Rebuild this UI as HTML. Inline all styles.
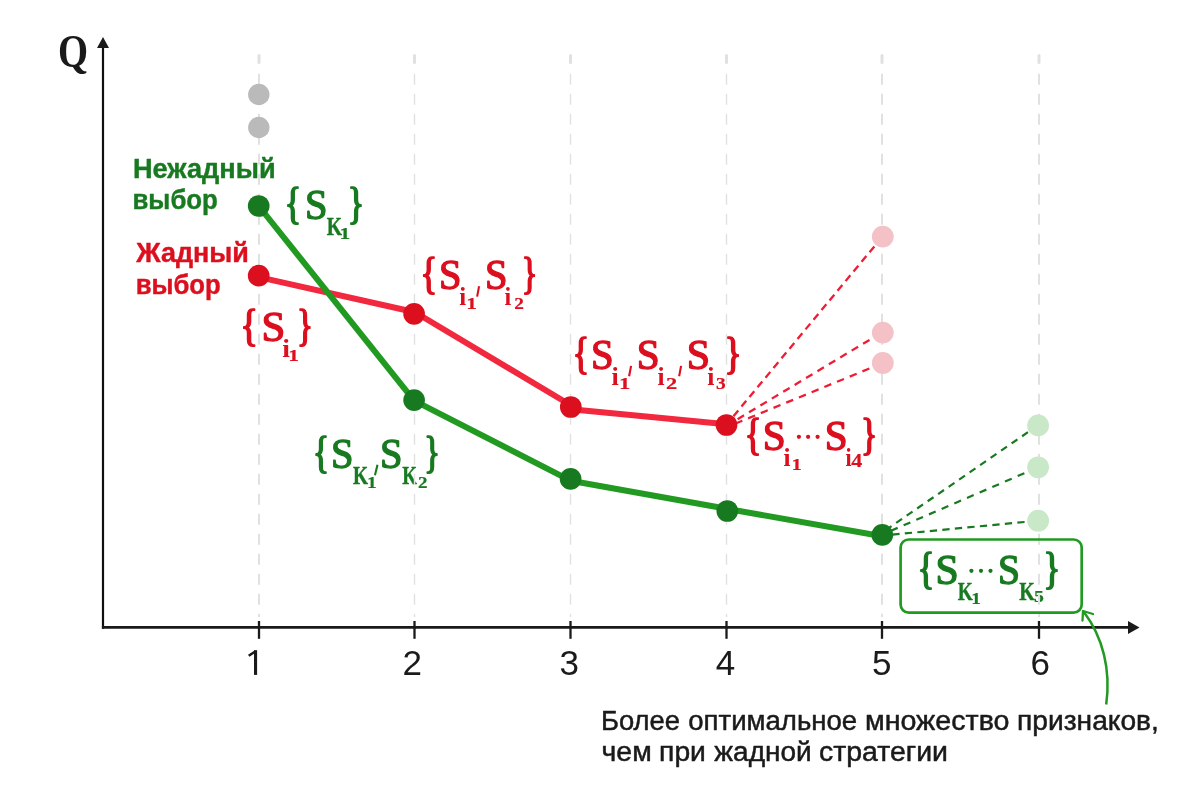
<!DOCTYPE html>
<html><head><meta charset="utf-8"><title>chart</title>
<style>
html,body{margin:0;padding:0;background:#fff;}
body{width:1200px;height:789px;overflow:hidden;font-family:"Liberation Sans",sans-serif;}
svg{display:block;will-change:transform;transform:translateZ(0)}
text{white-space:pre}
</style></head><body>
<svg width="1200" height="789" viewBox="0 0 1200 789">
<rect width="1200" height="789" fill="#ffffff"/>
<text transform="translate(132.98 178) scale(0.9962 1)" font-family="Liberation Sans" font-size="27.3" fill="#187a20" font-weight="bold" stroke="#187a20" stroke-width="0.4" stroke-linejoin="round">Нежадный</text>
<text transform="translate(132.50 208.7) scale(0.9452 1)" font-family="Liberation Sans" font-size="27.3" fill="#187a20" font-weight="bold" stroke="#187a20" stroke-width="0.4" stroke-linejoin="round">выбор</text>
<text transform="translate(136.18 262) scale(0.9888 1)" font-family="Liberation Sans" font-size="27.3" fill="#dc0f1f" font-weight="bold" stroke="#dc0f1f" stroke-width="0.4" stroke-linejoin="round">Жадный</text>
<text transform="translate(135.70 293.7) scale(0.9429 1)" font-family="Liberation Sans" font-size="27.3" fill="#dc0f1f" font-weight="bold" stroke="#dc0f1f" stroke-width="0.4" stroke-linejoin="round">выбор</text>
<text transform="translate(601.00 730) scale(0.9925 1)" font-family="Liberation Sans" font-size="27.6" fill="#1a1a1a" stroke="#1a1a1a" stroke-width="0.5" stroke-linejoin="round">Более</text>
<text transform="translate(688.29 730) scale(0.9993 1)" font-family="Liberation Sans" font-size="27.6" fill="#1a1a1a" stroke="#1a1a1a" stroke-width="0.5" stroke-linejoin="round">оптимальное</text>
<text transform="translate(864.96 730) scale(1.0383 1)" font-family="Liberation Sans" font-size="27.6" fill="#1a1a1a" stroke="#1a1a1a" stroke-width="0.5" stroke-linejoin="round">множество</text>
<text transform="translate(1017.10 730) scale(1.0199 1)" font-family="Liberation Sans" font-size="27.6" fill="#1a1a1a" stroke="#1a1a1a" stroke-width="0.5" stroke-linejoin="round">признаков,</text>
<text transform="translate(601.56 761.2) scale(1.0297 1)" font-family="Liberation Sans" font-size="27.6" fill="#1a1a1a" stroke="#1a1a1a" stroke-width="0.5" stroke-linejoin="round">чем</text>
<text transform="translate(659.09 761.2) scale(1.0242 1)" font-family="Liberation Sans" font-size="27.6" fill="#1a1a1a" stroke="#1a1a1a" stroke-width="0.5" stroke-linejoin="round">при</text>
<text transform="translate(714.35 761.2) scale(1.0147 1)" font-family="Liberation Sans" font-size="27.6" fill="#1a1a1a" stroke="#1a1a1a" stroke-width="0.5" stroke-linejoin="round">жадной</text>
<text transform="translate(819.04 761.2) scale(1.0305 1)" font-family="Liberation Sans" font-size="27.6" fill="#1a1a1a" stroke="#1a1a1a" stroke-width="0.5" stroke-linejoin="round">стратегии</text>
<text transform="translate(284.85 218.15) scale(0.7880 1)" font-family="Liberation Serif" font-size="43.38" fill="#187a20" stroke="#187a20" stroke-width="1.9" stroke-linejoin="round">{</text>
<text transform="translate(304.99 219.08) scale(0.9415 1)" font-family="Liberation Serif" font-size="43.01" fill="#187a20" stroke="#187a20" stroke-width="1.4" stroke-linejoin="round">S</text>
<text transform="translate(326.86 234.90) scale(0.7897 1)" font-family="Liberation Serif" font-size="24.89" fill="#187a20" font-weight="bold" stroke="#187a20" stroke-width="0.4" stroke-linejoin="round">K</text>
<text transform="translate(339.38 238.90) scale(1.2110 1)" font-family="Liberation Serif" font-size="17.72" fill="#187a20" font-weight="bold" stroke="#187a20" stroke-width="0.2" stroke-linejoin="round">1</text>
<text transform="translate(347.75 218.15) scale(0.7880 1)" font-family="Liberation Serif" font-size="43.38" fill="#187a20" stroke="#187a20" stroke-width="1.9" stroke-linejoin="round">}</text>
<text transform="translate(240.46 340.25) scale(0.8344 1)" font-family="Liberation Serif" font-size="43.38" fill="#dc0f1f" stroke="#dc0f1f" stroke-width="1.9" stroke-linejoin="round">{</text>
<text transform="translate(261.43 341.18) scale(0.9959 1)" font-family="Liberation Serif" font-size="43.01" fill="#dc0f1f" stroke="#dc0f1f" stroke-width="1.4" stroke-linejoin="round">S</text>
<text transform="translate(282.19 357.00) scale(1.1337 1)" font-family="Liberation Serif" font-size="24.50" fill="#dc0f1f" font-weight="bold">i</text>
<text transform="translate(288.28 361.00) scale(1.2110 1)" font-family="Liberation Serif" font-size="17.72" fill="#dc0f1f" font-weight="bold" stroke="#dc0f1f" stroke-width="0.2" stroke-linejoin="round">1</text>
<text transform="translate(296.94 340.25) scale(0.7648 1)" font-family="Liberation Serif" font-size="43.38" fill="#dc0f1f" stroke="#dc0f1f" stroke-width="1.9" stroke-linejoin="round">}</text>
<text transform="translate(420.59 288.25) scale(0.8035 1)" font-family="Liberation Serif" font-size="43.38" fill="#dc0f1f" stroke="#dc0f1f" stroke-width="1.9" stroke-linejoin="round">{</text>
<text transform="translate(438.89 289.18) scale(0.9415 1)" font-family="Liberation Serif" font-size="43.01" fill="#dc0f1f" stroke="#dc0f1f" stroke-width="1.4" stroke-linejoin="round">S</text>
<text transform="translate(459.35 305.00) scale(1.0152 1)" font-family="Liberation Serif" font-size="24.50" fill="#dc0f1f" font-weight="bold">i</text>
<text transform="translate(466.28 309.00) scale(1.2110 1)" font-family="Liberation Serif" font-size="17.72" fill="#dc0f1f" font-weight="bold" stroke="#dc0f1f" stroke-width="0.2" stroke-linejoin="round">1</text>
<line x1="479.10" y1="286.20" x2="477.10" y2="296.60" stroke="#dc0f1f" stroke-width="2.1"/>
<text transform="translate(484.99 289.18) scale(0.9415 1)" font-family="Liberation Serif" font-size="43.01" fill="#dc0f1f" stroke="#dc0f1f" stroke-width="1.4" stroke-linejoin="round">S</text>
<text transform="translate(504.57 305.00) scale(0.9814 1)" font-family="Liberation Serif" font-size="24.50" fill="#dc0f1f" font-weight="bold">i</text>
<text transform="translate(514.29 309.00) scale(1.0909 1)" font-family="Liberation Serif" font-size="17.67" fill="#dc0f1f" font-weight="bold" stroke="#dc0f1f" stroke-width="0.2" stroke-linejoin="round">2</text>
<text transform="translate(521.80 288.25) scale(0.7494 1)" font-family="Liberation Serif" font-size="43.38" fill="#dc0f1f" stroke="#dc0f1f" stroke-width="1.9" stroke-linejoin="round">}</text>
<text transform="translate(572.75 367.95) scale(0.7880 1)" font-family="Liberation Serif" font-size="43.38" fill="#dc0f1f" stroke="#dc0f1f" stroke-width="1.9" stroke-linejoin="round">{</text>
<text transform="translate(590.88 368.88) scale(0.9469 1)" font-family="Liberation Serif" font-size="43.01" fill="#dc0f1f" stroke="#dc0f1f" stroke-width="1.4" stroke-linejoin="round">S</text>
<text transform="translate(611.53 384.70) scale(1.0660 1)" font-family="Liberation Serif" font-size="24.50" fill="#dc0f1f" font-weight="bold">i</text>
<text transform="translate(619.03 388.70) scale(1.2800 1)" font-family="Liberation Serif" font-size="17.72" fill="#dc0f1f" font-weight="bold" stroke="#dc0f1f" stroke-width="0.2" stroke-linejoin="round">1</text>
<line x1="631.10" y1="365.90" x2="629.10" y2="376.30" stroke="#dc0f1f" stroke-width="2.1"/>
<text transform="translate(636.74 368.88) scale(0.9578 1)" font-family="Liberation Serif" font-size="43.01" fill="#dc0f1f" stroke="#dc0f1f" stroke-width="1.4" stroke-linejoin="round">S</text>
<text transform="translate(657.44 384.70) scale(1.0321 1)" font-family="Liberation Serif" font-size="24.50" fill="#dc0f1f" font-weight="bold">i</text>
<text transform="translate(666.06 388.70) scale(1.2682 1)" font-family="Liberation Serif" font-size="17.67" fill="#dc0f1f" font-weight="bold" stroke="#dc0f1f" stroke-width="0.2" stroke-linejoin="round">2</text>
<line x1="681.10" y1="365.90" x2="679.15" y2="376.30" stroke="#dc0f1f" stroke-width="2.1"/>
<text transform="translate(686.70 368.88) scale(0.9742 1)" font-family="Liberation Serif" font-size="43.01" fill="#dc0f1f" stroke="#dc0f1f" stroke-width="1.4" stroke-linejoin="round">S</text>
<text transform="translate(707.33 384.70) scale(1.0491 1)" font-family="Liberation Serif" font-size="24.50" fill="#dc0f1f" font-weight="bold">i</text>
<text transform="translate(716.07 388.53) scale(1.1131 1)" font-family="Liberation Serif" font-size="17.41" fill="#dc0f1f" font-weight="bold" stroke="#dc0f1f" stroke-width="0.2" stroke-linejoin="round">3</text>
<text transform="translate(724.49 367.95) scale(0.8150 1)" font-family="Liberation Serif" font-size="43.38" fill="#dc0f1f" stroke="#dc0f1f" stroke-width="1.9" stroke-linejoin="round">}</text>
<text transform="translate(744.80 449.15) scale(0.7996 1)" font-family="Liberation Serif" font-size="43.38" fill="#dc0f1f" stroke="#dc0f1f" stroke-width="1.9" stroke-linejoin="round">{</text>
<text transform="translate(762.64 450.08) scale(0.9606 1)" font-family="Liberation Serif" font-size="43.01" fill="#dc0f1f" stroke="#dc0f1f" stroke-width="1.4" stroke-linejoin="round">S</text>
<text transform="translate(783.54 465.90) scale(1.0321 1)" font-family="Liberation Serif" font-size="24.50" fill="#dc0f1f" font-weight="bold">i</text>
<text transform="translate(791.55 469.90) scale(1.1650 1)" font-family="Liberation Serif" font-size="17.72" fill="#dc0f1f" font-weight="bold" stroke="#dc0f1f" stroke-width="0.2" stroke-linejoin="round">1</text>
<circle cx="798.9" cy="436.80" r="2.1" fill="#dc0f1f"/>
<circle cx="808.1" cy="436.80" r="2.1" fill="#dc0f1f"/>
<circle cx="817.6" cy="436.80" r="2.1" fill="#dc0f1f"/>
<text transform="translate(824.84 450.08) scale(0.9578 1)" font-family="Liberation Serif" font-size="43.01" fill="#dc0f1f" stroke="#dc0f1f" stroke-width="1.4" stroke-linejoin="round">S</text>
<text transform="translate(845.42 465.90) scale(0.8968 1)" font-family="Liberation Serif" font-size="24.50" fill="#dc0f1f" font-weight="bold">i</text>
<text transform="translate(851.20 466.60) scale(1.2389 1)" font-family="Liberation Serif" font-size="17.78" fill="#dc0f1f" font-weight="bold" stroke="#dc0f1f" stroke-width="0.2" stroke-linejoin="round">4</text>
<text transform="translate(860.98 449.15) scale(0.7803 1)" font-family="Liberation Serif" font-size="43.38" fill="#dc0f1f" stroke="#dc0f1f" stroke-width="1.9" stroke-linejoin="round">}</text>
<text transform="translate(312.91 466.80) scale(0.7726 1)" font-family="Liberation Serif" font-size="43.38" fill="#187a20" stroke="#187a20" stroke-width="1.9" stroke-linejoin="round">{</text>
<text transform="translate(330.89 467.73) scale(0.9415 1)" font-family="Liberation Serif" font-size="43.01" fill="#187a20" stroke="#187a20" stroke-width="1.4" stroke-linejoin="round">S</text>
<text transform="translate(352.97 483.55) scale(0.7790 1)" font-family="Liberation Serif" font-size="24.89" fill="#187a20" font-weight="bold" stroke="#187a20" stroke-width="0.4" stroke-linejoin="round">K</text>
<text transform="translate(367.03 487.55) scale(1.1037 1)" font-family="Liberation Serif" font-size="17.72" fill="#187a20" font-weight="bold" stroke="#187a20" stroke-width="0.2" stroke-linejoin="round">1</text>
<line x1="377.50" y1="464.75" x2="374.95" y2="475.15" stroke="#187a20" stroke-width="2.1"/>
<text transform="translate(379.89 467.73) scale(0.9415 1)" font-family="Liberation Serif" font-size="43.01" fill="#187a20" stroke="#187a20" stroke-width="1.4" stroke-linejoin="round">S</text>
<text transform="translate(402.13 483.55) scale(0.7603 1)" font-family="Liberation Serif" font-size="24.89" fill="#187a20" font-weight="bold" stroke="#187a20" stroke-width="0.4" stroke-linejoin="round">K</text>
<text transform="translate(418.05 487.55) scale(1.0841 1)" font-family="Liberation Serif" font-size="17.67" fill="#187a20" font-weight="bold" stroke="#187a20" stroke-width="0.2" stroke-linejoin="round">2</text>
<text transform="translate(424.23 466.80) scale(0.7532 1)" font-family="Liberation Serif" font-size="43.38" fill="#187a20" stroke="#187a20" stroke-width="1.9" stroke-linejoin="round">}</text>
<text transform="translate(917.82 583.15) scale(0.7957 1)" font-family="Liberation Serif" font-size="43.38" fill="#187a20" stroke="#187a20" stroke-width="1.9" stroke-linejoin="round">{</text>
<text transform="translate(935.61 584.08) scale(0.9687 1)" font-family="Liberation Serif" font-size="43.01" fill="#187a20" stroke="#187a20" stroke-width="1.4" stroke-linejoin="round">S</text>
<text transform="translate(957.87 599.90) scale(0.7737 1)" font-family="Liberation Serif" font-size="24.89" fill="#187a20" font-weight="bold" stroke="#187a20" stroke-width="0.4" stroke-linejoin="round">K</text>
<text transform="translate(971.26 603.90) scale(1.0884 1)" font-family="Liberation Serif" font-size="17.72" fill="#187a20" font-weight="bold" stroke="#187a20" stroke-width="0.2" stroke-linejoin="round">1</text>
<circle cx="971.4" cy="570.80" r="2.1" fill="#187a20"/>
<circle cx="981.0" cy="570.80" r="2.1" fill="#187a20"/>
<circle cx="990.5" cy="570.80" r="2.1" fill="#187a20"/>
<text transform="translate(998.05 584.08) scale(0.9197 1)" font-family="Liberation Serif" font-size="43.01" fill="#187a20" stroke="#187a20" stroke-width="1.4" stroke-linejoin="round">S</text>
<text transform="translate(1019.16 599.90) scale(0.8003 1)" font-family="Liberation Serif" font-size="24.89" fill="#187a20" font-weight="bold" stroke="#187a20" stroke-width="0.4" stroke-linejoin="round">K</text>
<text transform="translate(1034.01 602.43) scale(1.1269 1)" font-family="Liberation Serif" font-size="17.60" fill="#187a20" font-weight="bold" stroke="#187a20" stroke-width="0.2" stroke-linejoin="round">5</text>
<text transform="translate(1043.49 583.15) scale(0.8035 1)" font-family="Liberation Serif" font-size="43.38" fill="#187a20" stroke="#187a20" stroke-width="1.9" stroke-linejoin="round">}</text>
<text transform="translate(57.91 66.81) scale(0.8259 1)" font-family="Liberation Serif" font-size="46.83" fill="#1a1a1a" font-weight="bold">Q</text>
<rect x="254" y="650.2" width="3.1" height="24.7" fill="#1a1a1a"/>
<line x1="248.7" y1="655.7" x2="255.6" y2="651.2" stroke="#1a1a1a" stroke-width="2.5"/>
<text x="412.15" y="674.5" text-anchor="middle" font-family="Liberation Sans" font-size="35" fill="#1a1a1a">2</text>
<text x="569.15" y="674.5" text-anchor="middle" font-family="Liberation Sans" font-size="35" fill="#1a1a1a">3</text>
<text x="725.5" y="674.5" text-anchor="middle" font-family="Liberation Sans" font-size="35" fill="#1a1a1a">4</text>
<text x="881.8" y="674.5" text-anchor="middle" font-family="Liberation Sans" font-size="35" fill="#1a1a1a">5</text>
<text x="1040.2" y="674.5" text-anchor="middle" font-family="Liberation Sans" font-size="35" fill="#1a1a1a">6</text>
<rect x="257.5" y="54" width="3" height="10" rx="1.5" fill="#e1e1e1"/>
<line x1="259.0" y1="73.8" x2="259.0" y2="617" stroke="#e1e1e1" stroke-width="2.0" stroke-dasharray="11 9"/>
<rect x="413.0" y="54" width="3" height="10" rx="1.5" fill="#e1e1e1"/>
<line x1="414.5" y1="73.8" x2="414.5" y2="617" stroke="#e1e1e1" stroke-width="1.4" stroke-dasharray="11 9"/>
<rect x="569.0" y="54" width="3" height="10" rx="1.5" fill="#e1e1e1"/>
<line x1="570.5" y1="73.8" x2="570.5" y2="617" stroke="#e1e1e1" stroke-width="1.4" stroke-dasharray="11 9"/>
<rect x="725.0" y="54" width="3" height="10" rx="1.5" fill="#e1e1e1"/>
<line x1="726.5" y1="73.8" x2="726.5" y2="617" stroke="#e1e1e1" stroke-width="1.4" stroke-dasharray="11 9"/>
<rect x="880.5" y="54" width="3" height="10" rx="1.5" fill="#e1e1e1"/>
<line x1="882.0" y1="73.8" x2="882.0" y2="617" stroke="#e1e1e1" stroke-width="2.0" stroke-dasharray="11 9"/>
<rect x="1037.5" y="54" width="3" height="10" rx="1.5" fill="#e1e1e1"/>
<line x1="1039.0" y1="73.8" x2="1039.0" y2="617" stroke="#e1e1e1" stroke-width="2.0" stroke-dasharray="11 9"/>
<line x1="103" y1="47" x2="103" y2="628.7" stroke="#101010" stroke-width="2.2"/>
<line x1="101.9" y1="627.4" x2="1129" y2="627.4" stroke="#1a1a1a" stroke-width="2.6"/>
<polygon points="103,37 97,48 109,48" fill="#1a1a1a"/>
<polygon points="1139.5,627.5 1128,621 1128,634" fill="#1a1a1a"/>
<line x1="259.0" y1="621" x2="259.0" y2="638.8" stroke="#1a1a1a" stroke-width="2.3"/>
<line x1="414.5" y1="621" x2="414.5" y2="638.8" stroke="#1a1a1a" stroke-width="2.3"/>
<line x1="570.5" y1="621" x2="570.5" y2="638.8" stroke="#1a1a1a" stroke-width="2.3"/>
<line x1="726.5" y1="621" x2="726.5" y2="638.8" stroke="#1a1a1a" stroke-width="2.3"/>
<line x1="882.0" y1="621" x2="882.0" y2="638.8" stroke="#1a1a1a" stroke-width="2.3"/>
<line x1="1039.0" y1="621" x2="1039.0" y2="638.8" stroke="#1a1a1a" stroke-width="2.3"/>
<circle cx="258.8" cy="94.5" r="10.7" fill="#bababa"/>
<circle cx="258.8" cy="127.5" r="10.7" fill="#bababa"/>
<line x1="882.8" y1="236.2" x2="726.3" y2="424.9" stroke="#ee1c34" stroke-width="2.3" stroke-dasharray="7.5 5.04" stroke-dashoffset="-0.7"/>
<line x1="882.8" y1="331.9" x2="726.3" y2="426.0" stroke="#ee1c34" stroke-width="2.3" stroke-dasharray="7.5 5.81" stroke-dashoffset="-2.2"/>
<line x1="882.8" y1="363.0" x2="726.3" y2="427.3" stroke="#ee1c34" stroke-width="2.3" stroke-dasharray="7.5 6.23" stroke-dashoffset="-0.8"/>
<circle cx="882.8" cy="236.6" r="10.9" fill="#f4c1c6"/>
<circle cx="882.8" cy="332.6" r="10.9" fill="#f4c1c6"/>
<circle cx="882.8" cy="363" r="10.9" fill="#f4c1c6"/>
<line x1="1038.1" y1="425.2" x2="882.3" y2="532.5" stroke="#187a20" stroke-width="2.2" stroke-dasharray="7.1 5.64" stroke-dashoffset="0.4"/>
<line x1="1038.1" y1="467.3" x2="882.3" y2="534.5" stroke="#187a20" stroke-width="2.2" stroke-dasharray="7.3 6.5" stroke-dashoffset="-1.15"/>
<line x1="1038.1" y1="520.7" x2="882.3" y2="535.6" stroke="#187a20" stroke-width="2.2" stroke-dasharray="7.3 5.26" stroke-dashoffset="-1.0"/>
<circle cx="1038.1" cy="425.4" r="10.9" fill="#c8e8c8"/>
<circle cx="1038.1" cy="467.3" r="10.9" fill="#c8e8c8"/>
<circle cx="1038.1" cy="520.7" r="10.9" fill="#c8e8c8"/>
<line x1="258.7" y1="277.1" x2="414.1" y2="312.0" stroke="#f1283e" stroke-width="5.9" stroke-linecap="round"/>
<line x1="414.2" y1="311.8" x2="570.8" y2="405.3" stroke="#f1283e" stroke-width="5.9" stroke-linecap="round"/>
<line x1="570.8" y1="409.3" x2="726.5" y2="424.3" stroke="#f1283e" stroke-width="5.9" stroke-linecap="round"/>
<polyline points="258.7,206 414.1,400.6 570.6,480.7 726.8,508.8 882.3,536.2" fill="none" stroke="#229a22" stroke-width="6" stroke-linejoin="round"/>
<circle cx="258.7" cy="275.7" r="10.85" fill="#dc0f1f"/>
<circle cx="414.1" cy="313.8" r="10.85" fill="#dc0f1f"/>
<circle cx="570.8" cy="407.0" r="10.85" fill="#dc0f1f"/>
<circle cx="726.5" cy="425.0" r="10.85" fill="#dc0f1f"/>
<circle cx="258.7" cy="206" r="10.85" fill="#187a20"/>
<circle cx="414.1" cy="400.05" r="10.85" fill="#187a20"/>
<circle cx="570.6" cy="478.9" r="10.85" fill="#187a20"/>
<circle cx="727.3" cy="511" r="10.85" fill="#187a20"/>
<circle cx="882.3" cy="534.9" r="10.85" fill="#187a20"/>
<rect x="900.6" y="539.5" width="181.1" height="73.1" rx="8" fill="none" stroke="#229a22" stroke-width="2.7"/>
<path d="M1106.2,704.5 C1111,670 1103,637 1083.5,611.5" fill="none" stroke="#229a22" stroke-width="2.5"/>
<path d="M1093,614 L1083,611 L1082.5,620.5" fill="none" stroke="#229a22" stroke-width="2.3" stroke-linecap="round" stroke-linejoin="round"/>
</svg>
</body></html>
